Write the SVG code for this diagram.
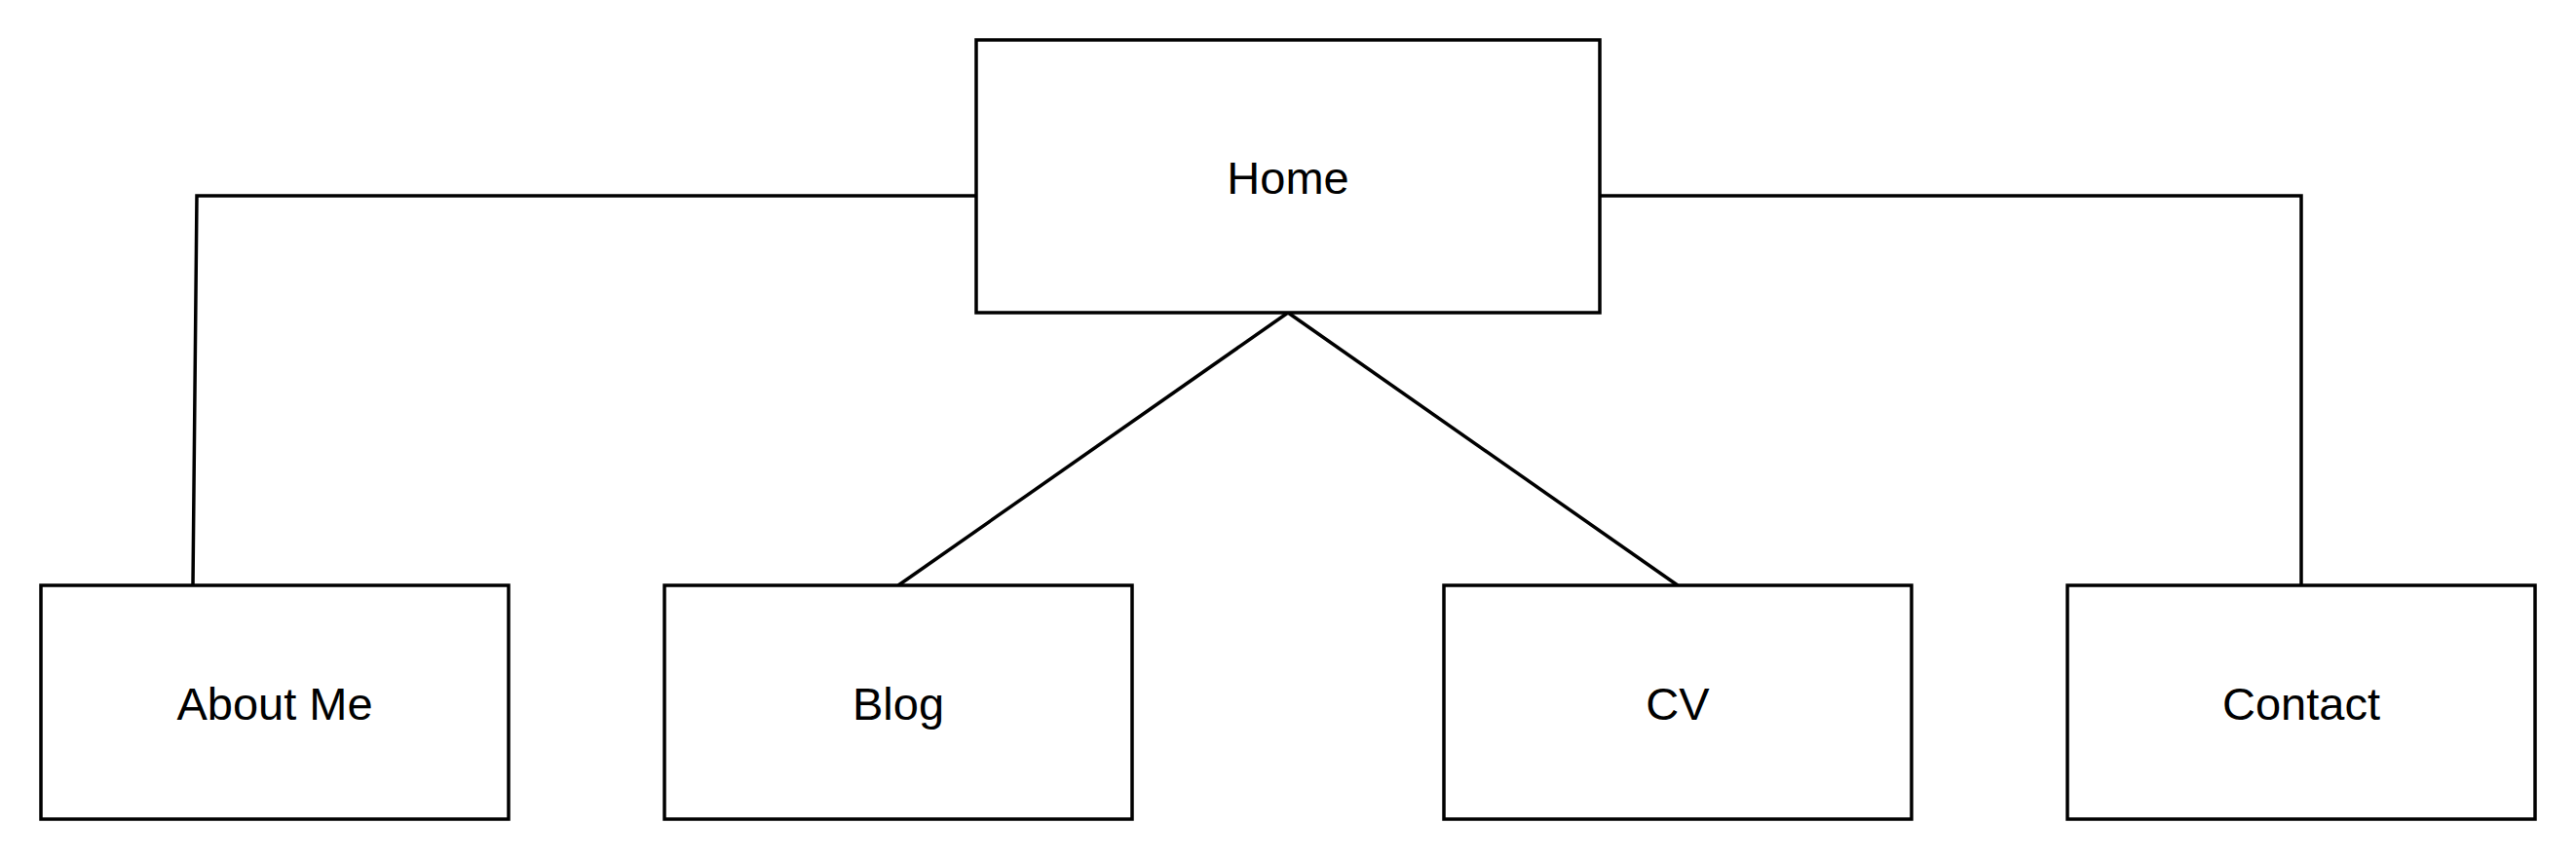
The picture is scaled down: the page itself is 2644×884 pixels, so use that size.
<svg xmlns="http://www.w3.org/2000/svg" width="2644" height="884" viewBox="0 0 2644 884">
<style>
.box{fill:#fff;stroke:#000;stroke-width:3.5}
.lbl{font-family:"Liberation Sans",Arial,sans-serif;font-size:47px;fill:#000;text-anchor:middle}
.con{fill:none;stroke:#000;stroke-width:3.5}
</style>
<rect width="2644" height="884" fill="#fff"/>
<g id="connectors">
<polyline class="con" points="1002,201 202,201 198,601"/>
<polyline class="con" points="1642,201 2362,201 2362,601"/>
<line class="con" x1="1322" y1="321" x2="922" y2="601"/>
<line class="con" x1="1322" y1="321" x2="1722" y2="601"/>
</g>
<g id="home"><rect class="box" x="1002" y="41" width="640" height="280"/><text class="lbl" x="1322" y="199">Home</text></g>
<g id="about"><rect class="box" x="42" y="601" width="480" height="240"/><text class="lbl" x="282" y="739">About Me</text></g>
<g id="blog"><rect class="box" x="682" y="601" width="480" height="240"/><text class="lbl" x="922" y="739">Blog</text></g>
<g id="cv"><rect class="box" x="1482" y="601" width="480" height="240"/><text class="lbl" x="1722" y="739">CV</text></g>
<g id="contact"><rect class="box" x="2122" y="601" width="480" height="240"/><text class="lbl" x="2362" y="739">Contact</text></g>
</svg>
